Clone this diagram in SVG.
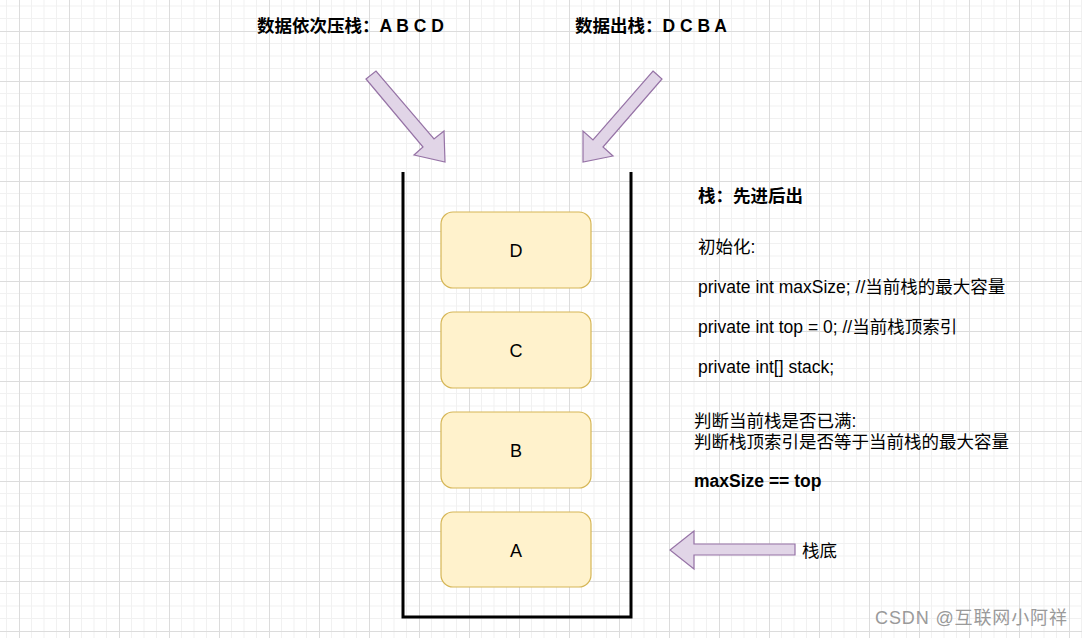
<svg xmlns="http://www.w3.org/2000/svg" width="1082" height="638" viewBox="0 0 1082 638">
<defs>
<pattern id="grid" patternUnits="userSpaceOnUse" x="19" y="31" width="50" height="50">
<path d="M12.5 0V50M25 0V50M37.5 0V50M0 12.5H50M0 25H50M0 37.5H50" stroke="#f1f1f1" stroke-width="1" fill="none"/>
<path d="M0.5 0V50M0 0.5H50" stroke="#dcdcdc" stroke-width="1" fill="none"/>
</pattern>
</defs>
<style>
.bold{font-family:"Liberation Sans","Noto Sans CJK SC",sans-serif;font-weight:bold;font-size:17.5px;fill:#000}
.reg{font-family:"Liberation Sans","Noto Sans CJK SC",sans-serif;font-size:17.5px;fill:#000}
.box{fill:#fff2cc;stroke:#d6b656;stroke-width:1.2}
.lbl{font-family:"Liberation Sans",sans-serif;font-size:18px;fill:#000;text-anchor:middle}
.arrow{fill:#e1d5e7;stroke:#9673a6;stroke-width:1.2;stroke-linejoin:miter}
.wall{fill:none;stroke:#000;stroke-width:3}
</style>
<rect width="1082" height="638" fill="#ffffff"/>
<rect width="1082" height="638" fill="url(#grid)"/>
<g id="title-push"><text class="bold" x="257" y="32">数据依次压栈：A B C D</text></g>
<g id="title-pop"><text class="bold" x="575" y="32">数据出栈：D C B A</text></g>
<g id="connectors">
<polygon class="arrow" points="366,79 376,71 434,139 444,131 445,162 414,155 423,147"/>
<polygon class="arrow" points="653,71 662,79 603,147 613,156 583,162 583,131 593,140"/>
<polygon class="arrow" points="795,544 694,544 694,531 670,550 694,569 694,555 795,555"/>
</g>
<g id="stack"><polyline class="wall" points="403,172 403,617 631,617 631,172"/></g>
<g id="node-D"><rect class="box" x="441" y="212" width="150" height="76" rx="12"/><text class="lbl" x="516" y="257">D</text></g>
<g id="node-C"><rect class="box" x="441" y="312" width="150" height="76" rx="12"/><text class="lbl" x="516" y="357">C</text></g>
<g id="node-B"><rect class="box" x="441" y="412" width="150" height="76" rx="12"/><text class="lbl" x="516" y="457">B</text></g>
<g id="node-A"><rect class="box" x="441" y="512" width="150" height="75" rx="12"/><text class="lbl" x="516" y="557">A</text></g>
<g id="info">
<text class="bold" x="698" y="202">栈：先进后出</text>
<text class="reg" x="698" y="253">初始化:</text>
<text class="reg" x="698" y="293">private int maxSize; //当前栈的最大容量</text>
<text class="reg" x="698" y="333">private int top = 0; //当前栈顶索引</text>
<text class="reg" x="698" y="373">private int[] stack;</text>
<text class="reg" x="694" y="427">判断当前栈是否已满:</text>
<text class="reg" x="694" y="448">判断栈顶索引是否等于当前栈的最大容量</text>
<text class="bold" x="694" y="487">maxSize == top</text>
</g>
<g id="bottom-label"><text class="reg" x="802" y="557">栈底</text></g>
<g id="watermark"><text x="875" y="624" font-family="Liberation Sans,Noto Sans CJK SC,sans-serif" font-size="18px" fill="#9a9a9a" textLength="192" lengthAdjust="spacing">CSDN @互联网小阿祥</text></g>
</svg>
